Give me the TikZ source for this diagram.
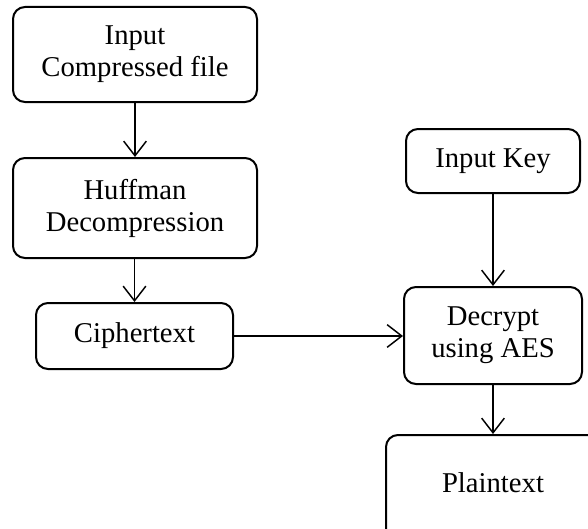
\documentclass[tikz,border=0pt]{standalone}
\usepackage{fontspec}
\setmainfont{Liberation Serif}
\usetikzlibrary{arrows.meta}
\begin{document}
\begin{tikzpicture}[x=0.75pt,y=-0.75pt,
  box/.style={draw=black,line width=1.5pt,rounded corners=9pt,align=center,inner sep=0pt,
    font=\fontsize{21.5}{24}\selectfont},
  conn/.style={draw=black,line width=1.1pt,-{Straight Barb[length=11pt,width=17pt,line width=1.1pt]}}]
\useasboundingbox (0,0) rectangle (588,528);
\node[box,minimum width=183pt,minimum height=71.25pt] (n1) at (135,54.5) {Input\\Compressed file};
\node[box,minimum width=183pt,minimum height=75pt] (n2) at (135,208) {Huffman\\Decompression};
\node[box,minimum width=147.75pt,minimum height=49.5pt] (n3) at (134.5,336) {Ciphertext};
\node[box,minimum width=130.5pt,minimum height=48pt] (n4) at (493,161) {Input Key};
\node[box,minimum width=133.5pt,minimum height=72.75pt] (n5) at (493,335.5) {Decrypt\\using AES};
\node[box,minimum width=160.5pt,minimum height=90pt] (n6) at (493,495) {};
\node[font=\fontsize{21.5}{24}\selectfont] (t6) at (493,483) {Plaintext};
\draw[conn] (n1) -- (n2);
\draw[conn] (n2.south -| n3.north) -- (n3.north);
\draw[conn] (n3.east) -- (n3.east -| n5.west);
\draw[conn] (n4) -- (n5);
\draw[conn] (n5) -- (n6);
\end{tikzpicture}
\end{document}
